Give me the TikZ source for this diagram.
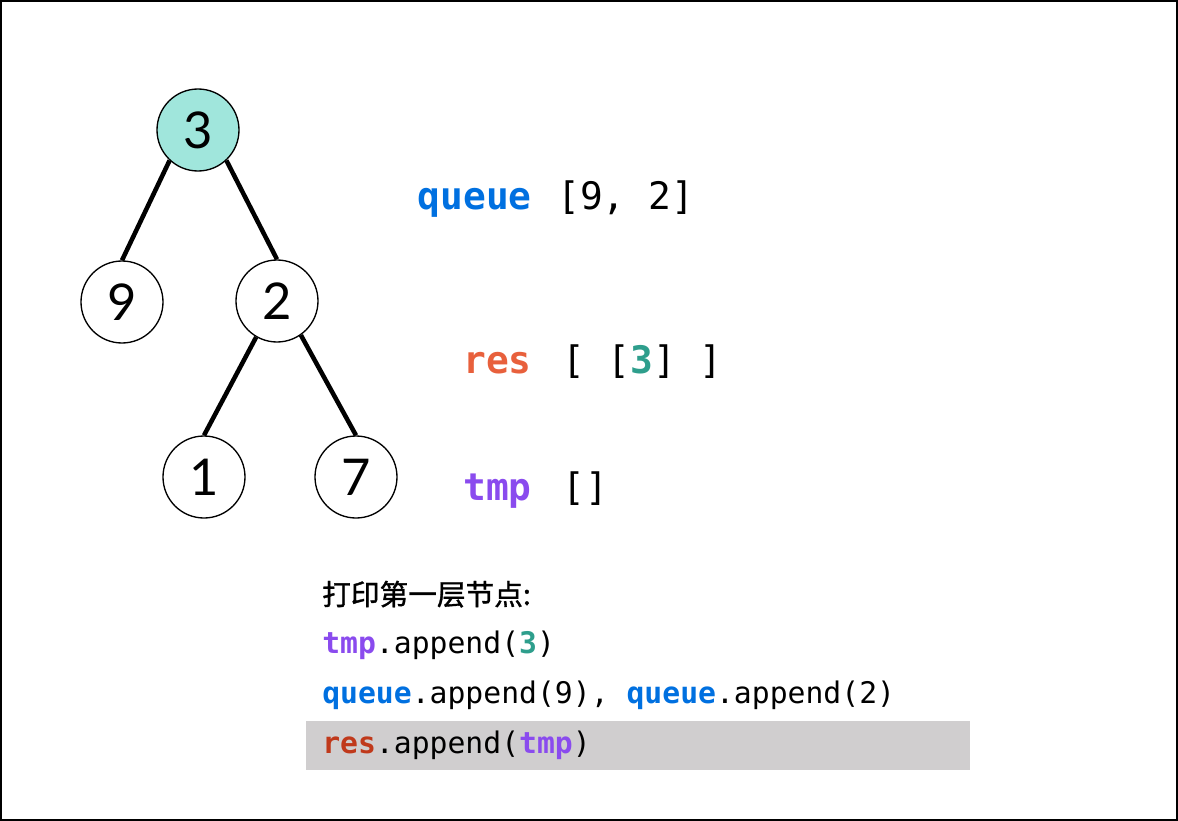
\documentclass[tikz,border=0pt]{standalone}
\usepackage{fontspec}
\usepackage{tikz}
\setmainfont{Lato}
\setmonofont{DejaVu Sans Mono}
\newfontfamily\cjk[FakeBold=1.2]{Noto Sans CJK SC}
\definecolor{qblue}{HTML}{0070E0}
\definecolor{resorange}{HTML}{E8603C}
\definecolor{resred}{HTML}{C0391B}
\definecolor{tmppurple}{HTML}{8A4BEE}
\definecolor{valteal}{HTML}{2E9E8C}
\definecolor{rootfill}{HTML}{A0E6DC}
\definecolor{hlgray}{HTML}{D0CECF}

\tikzset{
    treenode/.style={draw, circle, line width=1pt, minimum size=61.5pt, inner sep=0pt, font=\fontsize{38}{40}\selectfont},
    treeedge/.style={line width=3.4pt},
    statname/.style={anchor=base east, inner sep=0pt, font=\ttfamily\bfseries\fontsize{28.4}{30}\selectfont},
    statval/.style={anchor=base west, inner sep=0pt, font=\ttfamily\fontsize{28.4}{30}\selectfont},
    codeline/.style={anchor=base west, inner sep=0pt, font=\ttfamily\fontsize{22.3}{24}\selectfont}
}

\begin{document}
\begin{tikzpicture}[x=0.75pt, y=-0.75pt]
    \useasboundingbox (0,0) rectangle (1178,821);
    \draw[line width=1.5pt] (1,1) rectangle (1177,820);

    % tree
    \node[treenode, fill=rootfill] (n3) at (198,130) {3};
    \node[treenode] (n9) at (122,302) {9};
    \node[treenode] (n2) at (277,301) {2};
    \node[treenode] (n1) at (204,477) {1};
    \node[treenode] (n7) at (356,477) {7};
    \draw[treeedge] (n3.227) -- (n9.north);
    \draw[treeedge] (n3.313) -- (n2.north);
    \draw[treeedge] (n2.240) -- (n1.north);
    \draw[treeedge] (n2.305) -- (n7.north);

    % state
    \node[statname, text=qblue] (queue) at (532,209) {queue};
    \node[statval] (queueval) at (557,209) {[9, 2]};
    \node[statname, text=resorange] (res) at (532,373) {res};
    \node[statval] (resval) at (562,373) {[ [\textbf{\color{valteal}3}] ]};
    \node[statname, text=tmppurple] (tmp) at (532,500) {tmp};
    \node[statval] (tmpval) at (562,500) {[]};

    % steps
    \fill[hlgray] (306,721) rectangle (970,770);
    \node[anchor=base west, inner sep=0pt, font=\cjk\fontsize{21.5}{24}\selectfont] (title) at (322,605) {打印第一层节点:};
    \node[codeline] (step1) at (322,653) {\textbf{\color{tmppurple}tmp}.append(\textbf{\color{valteal}3})};
    \node[codeline] (step2) at (322,703) {\textbf{\color{qblue}queue}.append(9), \textbf{\color{qblue}queue}.append(2)};
    \node[codeline] (step3) at (322,753) {\textbf{\color{resred}res}.append(\textbf{\color{tmppurple}tmp})};
\end{tikzpicture}
\end{document}
